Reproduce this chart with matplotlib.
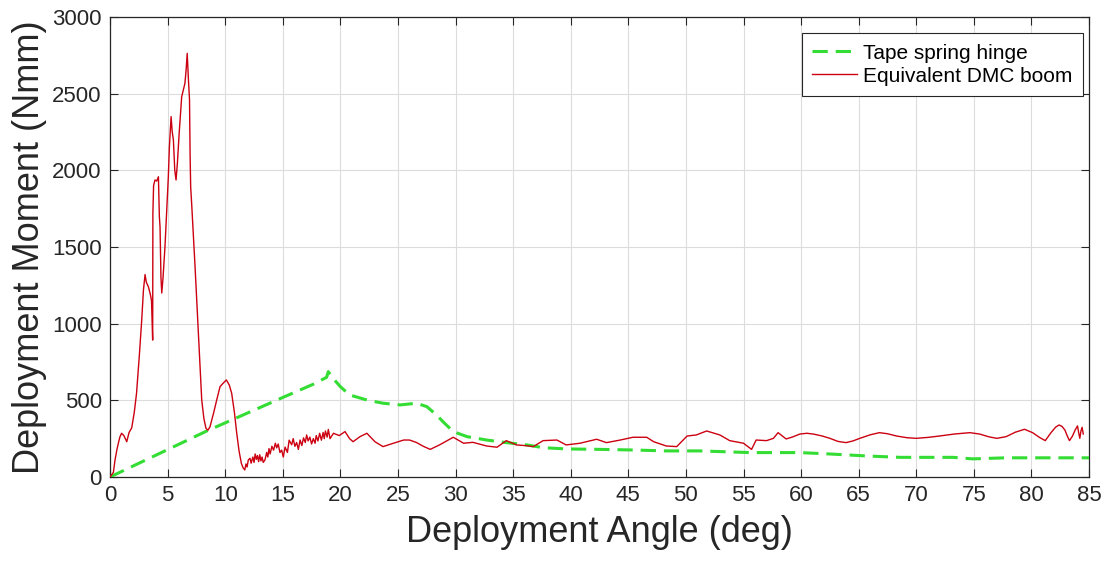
import matplotlib
matplotlib.use("Agg")
import matplotlib.pyplot as plt

plt.rcParams['font.family'] = ['Liberation Sans', 'DejaVu Sans']

# Equivalent DMC boom: deployment angle (deg) and moment (Nmm)
dmc_angle = [0.0, 0.29, 0.43, 0.6, 0.72, 0.85, 1.0, 1.2, 1.45, 1.65, 1.88, 2.1, 2.3, 2.55,
             2.75, 2.9, 3.04, 3.15, 3.33, 3.5, 3.6, 3.66, 3.7, 3.72, 3.78, 3.9, 4.05, 4.2,
             4.28, 4.34, 4.42, 4.49, 4.6, 4.77, 4.9, 5.06, 5.15, 5.3, 5.4, 5.5, 5.62, 5.73,
             5.85, 6.0, 6.1, 6.22, 6.35, 6.5, 6.6, 6.7, 6.8, 6.9, 6.95, 7.0, 7.1, 7.38,
             7.67, 7.96, 8.15, 8.33, 8.5, 8.68, 9.0, 9.26, 9.55, 9.8, 10.1, 10.35, 10.56,
             10.8, 11.0, 11.2, 11.4, 11.55, 11.7, 11.8, 11.9, 12.0, 12.15, 12.25, 12.4,
             12.5, 12.6, 12.7, 12.8, 12.9, 13.0, 13.1, 13.2, 13.3, 13.45, 13.6, 13.7,
             13.8, 13.9, 14.05, 14.2, 14.35, 14.47, 14.6, 14.75, 14.9, 15.04, 15.2, 15.4,
             15.55, 15.77, 15.9, 16.05, 16.2, 16.35, 16.5, 16.65, 16.8, 16.95, 17.07,
             17.2, 17.35, 17.5, 17.65, 17.8, 17.9, 18.05, 18.2, 18.35, 18.5, 18.6, 18.7,
             18.85, 18.95, 19.1, 19.4, 19.9, 20.4, 20.8, 21.1, 21.7, 22.3, 23.0, 23.7,
             24.6, 25.5, 26.0, 26.6, 27.2, 27.8, 28.6, 29.8, 30.7, 31.5, 32.7, 33.6, 34.4,
             35.3, 36.0, 36.75, 37.6, 38.8, 39.6, 40.8, 42.25, 43.1, 44.3, 45.4, 46.6,
             47.2, 48.3, 49.2, 50.1, 50.9, 51.8, 52.95, 53.8, 55.0, 55.7, 56.1, 57.0,
             57.6, 58.0, 58.7, 59.3, 59.9, 60.5, 61.05, 61.8, 62.5, 63.2, 63.9, 64.5,
             65.1, 66.0, 66.8, 67.5, 68.3, 69.2, 70.0, 71.0, 72.0, 73.3, 74.65, 75.5,
             76.3, 77.0, 77.8, 78.6, 79.4, 80.1, 80.7, 81.2, 81.7, 82.1, 82.4, 82.65,
             82.9, 83.1, 83.3, 83.55, 83.8, 84.0, 84.1, 84.2, 84.3, 84.4, 84.5]
dmc_moment = [0, 30, 110, 180, 220, 260, 285, 270, 230, 290, 320, 420, 546, 800,
              1024, 1220, 1320, 1270, 1240, 1190, 1150, 1000, 893, 1720, 1900, 1937, 1930, 1958,
              1700, 1632, 1300, 1200, 1300, 1502, 1700, 1958, 2150, 2350, 2250, 2198, 2000, 1937,
              2050, 2241, 2350, 2480, 2520, 2567, 2650, 2763, 2600, 2459, 2100, 1893, 1763, 1372,
              937, 502, 380, 317, 305, 328, 420, 502, 589, 610, 633, 600, 546,
              420, 285, 170, 89, 60, 46, 85, 65, 110, 122, 90, 130,
              95, 150, 115, 140, 100, 145, 105, 130, 95, 111, 160, 130,
              185, 150, 200, 175, 220, 190, 215, 160, 175, 130, 195, 160,
              240, 210, 250, 200, 225, 180, 241, 205, 255, 225, 274,
              235, 260, 215, 250, 220, 270, 235, 285, 240, 290, 250, 300,
              260, 310, 250, 285, 270, 296, 250, 230, 263, 285, 230, 198,
              220, 241, 241, 225, 200, 180, 209, 259, 220, 226, 202, 194, 237,
              209, 205, 198, 237, 241, 209, 220, 246, 224, 241, 259, 259,
              230, 202, 198, 267, 274, 300, 274, 237, 220, 180, 241, 237,
              252, 289, 248, 262, 280, 285, 280, 268, 252, 232, 224, 235,
              252, 275, 289, 282, 267, 256, 252, 258, 267, 280, 289, 280,
              262, 252, 263, 292, 311, 289, 258, 237, 289, 325, 339, 330,
              307, 270, 237, 265, 307, 333, 290, 252, 300, 324, 280]

# Tape spring hinge
tsh_angle = [0.0, 8.4, 15.04, 17.65, 18.8, 18.95, 19.2, 19.4, 20.0, 20.8, 22.3, 23.7,
             25.2, 26.6, 27.5, 28.35, 28.9, 29.8, 31.0, 32.7, 34.4, 36.2, 37.6, 39.6,
             42.5, 45.4, 48.3, 51.2, 55.6, 59.9, 62.5, 65.7, 68.6, 73.2, 74.9, 77.8, 85.0]
tsh_moment = [0, 300, 520, 605, 650, 687, 660, 640, 589, 535, 502, 481,
              470, 481, 459, 404, 361, 296, 263, 241, 224, 209, 191, 183,
              180, 176, 170, 170, 159, 159, 150, 137, 128, 128, 118, 125, 125]

x_ticks = list(range(0, 86, 5))
y_ticks = list(range(0, 3001, 500))

fig = plt.figure(figsize=(11.15, 5.63), dpi=100)
ax = fig.add_axes([0.0987, 0.1528, 0.878, 0.817])

ax.plot(tsh_angle, tsh_moment, color='#33dd33', lw=2.2, ls=(0, (5, 2.6)),
        label='Tape spring hinge', zorder=3)
ax.plot(dmc_angle, dmc_moment, color='#cc0010', lw=1.0,
        label='Equivalent DMC boom', zorder=4)

ax.set_xlim(0, 85)
ax.set_ylim(0, 3000)
ax.set_xticks(x_ticks)
ax.set_yticks(y_ticks)
ax.grid(True, color='#dcdcdc', lw=0.8)
ax.set_axisbelow(True)
ax.tick_params(direction='in', length=6, width=0.8, top=True, right=True,
               labelsize=16, colors='#262626', pad=6)
for s in ax.spines.values():
    s.set_color('#262626')
    s.set_linewidth(0.9)

ax.set_xlabel('Deployment Angle (deg)', fontsize=26, color='#262626', labelpad=6)
ax.set_ylabel('Deployment Moment (Nmm)', fontsize=26, color='#262626', labelpad=4)

leg = ax.legend(loc='upper right', bbox_to_anchor=(0.994, 0.965), fontsize=15,
                frameon=True, fancybox=False, edgecolor='#262626', framealpha=1,
                handlelength=2.16, borderpad=0.5, labelspacing=0.2, handletextpad=0.3,
                borderaxespad=0)
leg.get_frame().set_linewidth(0.8)

fig.savefig('out.png', dpi=100)
